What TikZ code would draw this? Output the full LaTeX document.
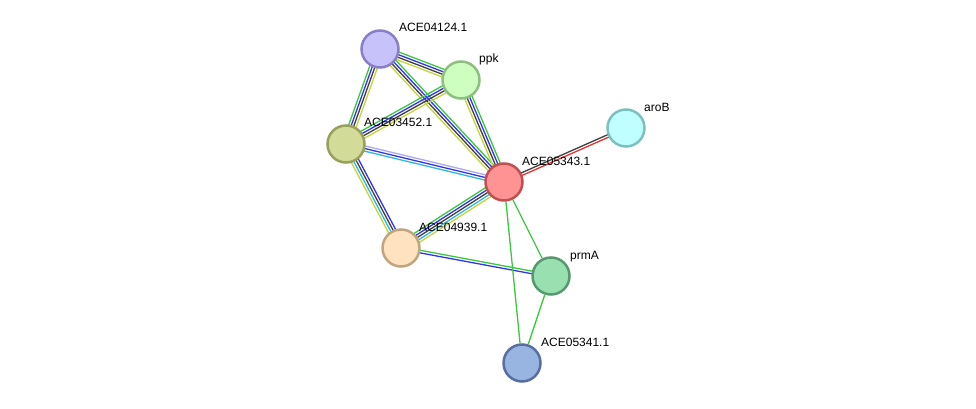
\documentclass[tikz,border=0pt]{standalone}
\usepackage{fontspec}
\setmainfont{Liberation Sans}
\usetikzlibrary{calc}
\pgfdeclarelayer{bg}
\pgfsetlayers{bg,main}
\definecolor{sgreen}{HTML}{3CC83C}
\definecolor{sblue}{HTML}{3333F0}
\definecolor{sblack}{HTML}{404040}
\definecolor{syellow}{HTML}{C4D43C}
\definecolor{scyan}{HTML}{30B8D8}
\definecolor{sred}{HTML}{F03030}
\definecolor{slav}{HTML}{A8A8F4}
\newcommand\stredge[4]{%
  \foreach \c [count=\i] in {#4}{%
    \pgfmathsetmacro\off{(\i-(#3+1)/2)*2.6}%
    \draw[\c, line width=1.3pt] ($(#1)!\off pt!90:(#2)$) -- ($(#2)!\off pt!-90:(#1)$);
  }%
}
\begin{document}
\begin{tikzpicture}[x=1pt,y=-1pt,
  prot/.style={circle, minimum size=37pt, inner sep=0pt, line width=2.5pt},
  lab/.style={anchor=base west, font=\fontsize{12}{14}\selectfont, text=black, inner sep=0pt}]
\useasboundingbox (0,0) rectangle (976,409);
\node[prot, fill={rgb,255:red,200;green,194;blue,250}, draw={rgb,255:red,138;green,126;blue,200}] (n04124) at (380,49) {};
\node[prot, fill={rgb,255:red,204;green,255;blue,192}, draw={rgb,255:red,142;green,190;blue,128}] (nppk) at (461,80) {};
\node[prot, fill={rgb,255:red,210;green,220;blue,152}, draw={rgb,255:red,152;green,160;blue,90}] (n03452) at (346,144) {};
\node[prot, fill={rgb,255:red,255;green,146;blue,146}, draw={rgb,255:red,192;green,80;blue,80}] (n05343) at (504,182) {};
\node[prot, fill={rgb,255:red,192;green,255;blue,255}, draw={rgb,255:red,126;green,192;blue,192}] (naroB) at (626,128) {};
\node[prot, fill={rgb,255:red,255;green,226;blue,192}, draw={rgb,255:red,192;green,166;blue,126}] (n04939) at (401,248) {};
\node[prot, fill={rgb,255:red,152;green,224;blue,176}, draw={rgb,255:red,88;green,152;blue,110}] (nprmA) at (551,276) {};
\node[prot, fill={rgb,255:red,152;green,180;blue,224}, draw={rgb,255:red,88;green,110;blue,158}] (n05341) at (522,363) {};
\begin{pgfonlayer}{bg}
\stredge{n04124}{nppk}{4}{syellow,sblack,sblue,sgreen}
\stredge{n04124}{n03452}{4}{sgreen,sblue,sblack,syellow}
\stredge{n04124}{n05343}{4}{syellow,sblack,sblue,sgreen}
\stredge{nppk}{n03452}{4}{sgreen,sblue,sblack,syellow}
\stredge{nppk}{n05343}{4}{syellow,sblack,sblue,sgreen}
\stredge{n03452}{n05343}{3}{scyan,sblue,slav}
\stredge{n03452}{n04939}{4}{syellow,scyan,sblack,sblue}
\stredge{n05343}{n04939}{5}{sgreen,sblue,sblack,scyan,syellow}
\stredge{n05343}{naroB}{2}{sred,sblack}
\stredge{n04939}{nprmA}{2}{sblue,sgreen}
\draw[sgreen, line width=1.3pt] (n05343) -- (nprmA);
\draw[sgreen, line width=1.3pt] (n05343) -- (n05341);
\draw[sgreen, line width=1.3pt] (nprmA) -- (n05341);
\end{pgfonlayer}
\node[lab] (l04124) at ($(n04124)+(19,-17)$) {ACE04124.1};
\node[lab] (lppk) at ($(nppk)+(18,-17)$) {ppk};
\node[lab] (l03452) at ($(n03452)+(18,-17)$) {ACE03452.1};
\node[lab] (l05343) at ($(n05343)+(18,-17)$) {ACE05343.1};
\node[lab] (laroB) at ($(naroB)+(18,-17)$) {aroB};
\node[lab] (l04939) at ($(n04939)+(18,-17)$) {ACE04939.1};
\node[lab] (lprmA) at ($(nprmA)+(19,-17)$) {prmA};
\node[lab] (l05341) at ($(n05341)+(19,-17)$) {ACE05341.1};
\end{tikzpicture}
\end{document}
